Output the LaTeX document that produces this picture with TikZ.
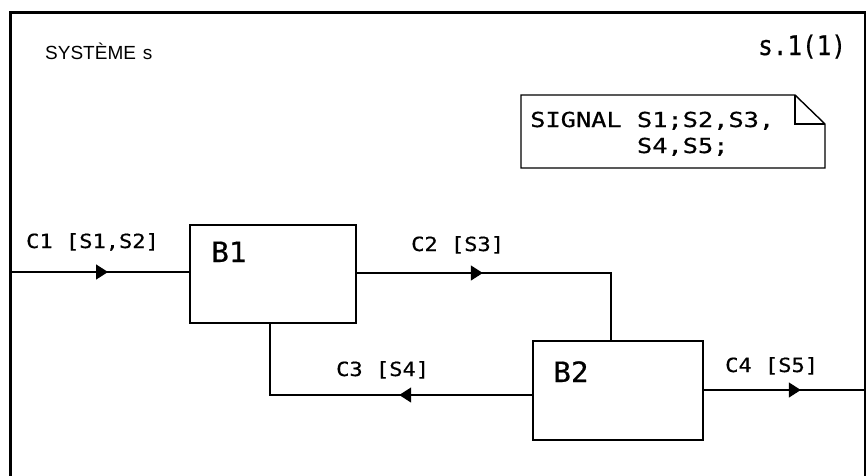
\documentclass[tikz,border=0pt]{standalone}
\usepackage{fontspec}
\setmainfont{Liberation Sans}
\newfontfamily\plotlbl[FakeStretch=1.13,FakeBold=0.6]{DejaVu Sans Mono}
\newfontfamily\plotcom[FakeStretch=1.23,FakeBold=0.6]{DejaVu Sans Mono}
\newfontfamily\plotblk[FakeStretch=1.05,FakeBold=0.6]{DejaVu Sans Mono}
\newfontfamily\plotpage[FakeStretch=0.9,FakeBold=0.6]{DejaVu Sans Mono}
\usetikzlibrary{arrows.meta,decorations.markings}
\begin{document}
\begin{tikzpicture}[x=1pt,y=-1pt,
  conn/.style={line width=1.4pt},
  frameline/.style={line width=3pt},
  blk/.style={draw,line width=1.6pt,rectangle,inner sep=0pt},
  chlabel/.style={inner sep=0pt,anchor=base west,font=\plotlbl\fontsize{19.5}{19.5}\selectfont},
  blklabel/.style={inner sep=0pt,anchor=base west,font=\plotblk\fontsize{28}{28}\selectfont},
  comtext/.style={inner sep=0pt,anchor=base west,font=\plotcom\fontsize{20.6}{20.6}\selectfont},
  arrowat/.style={postaction={decorate},decoration={markings,mark=at position #1 with {\arrow{Triangle[length=12pt,width=15pt]}}}}]
\useasboundingbox (0,0) rectangle (866,475);
% frame
\coordinate (ftl) at (10,12);
\coordinate (fbl) at (10,480);
\coordinate (ftr) at (866,12);
\coordinate (frt) at (865,12);
\coordinate (frb) at (865,480);
\draw[frameline] (fbl) -- (ftl) -- (ftr);
\draw[line width=1.2pt] (frt) -- (frb);
% titles
\node[inner sep=0pt,anchor=base west,font=\fontsize{19}{19}\selectfont] (sys) at (45,59) {SYSTÈME\hspace{7pt}s};
\node[inner sep=0pt,anchor=base west,font=\plotpage\fontsize{27}{27}\selectfont] (page) at (758,55) {s.1(1)};
% comment symbol
\coordinate (c1) at (521,95);
\coordinate (c2) at (795,95);
\coordinate (c3) at (825,124);
\coordinate (c4) at (825,168);
\coordinate (c5) at (521,168);
\coordinate (cf) at (795,124);
\draw[line width=1.4pt] (c1) -- (c2) -- (c3) -- (c4) -- (c5) -- cycle;
\draw[line width=1.4pt] (c2) -- (cf) -- (c3);
\node[comtext] (sig1) at (530,127) {SIGNAL S1;S2,S3,};
\node[comtext] (sig2) at (530,153) {\phantom{SIGNAL }S4,S5;};
% blocks
\node[blk,minimum width=166pt,minimum height=98pt] (B1) at (273,274) {};
\node[blklabel] (B1t) at (211,262) {B1};
\node[blk,minimum width=170pt,minimum height=99pt] (B2) at (618,390.5) {};
\node[blklabel] (B2t) at (553,382) {B2};
% channels
\coordinate (c1in) at (10,272);
\coordinate (c2corner) at (611,273);
\coordinate (c3corner) at (270,395);
\coordinate (c4out) at (865,390);
\draw[conn,arrowat=98pt] (c1in) -- (B1.west |- c1in);
\draw[conn,arrowat=126pt] (B1.east |- c2corner) -- (c2corner) -- (B2.north -| c2corner);
\draw[conn,arrowat=133pt] (B2.west |- c3corner) -- (c3corner) -- (B1.south -| c3corner);
\draw[conn,arrowat=97pt] (B2.east |- c4out) -- (c4out);
% channel labels
\node[chlabel] (l1) at (26,248) {C1 [S1,S2]};
\node[chlabel] (l2) at (411,251) {C2 [S3]};
\node[chlabel] (l3) at (336,376) {C3 [S4]};
\node[chlabel] (l4) at (725,372) {C4 [S5]};
\end{tikzpicture}
\end{document}
